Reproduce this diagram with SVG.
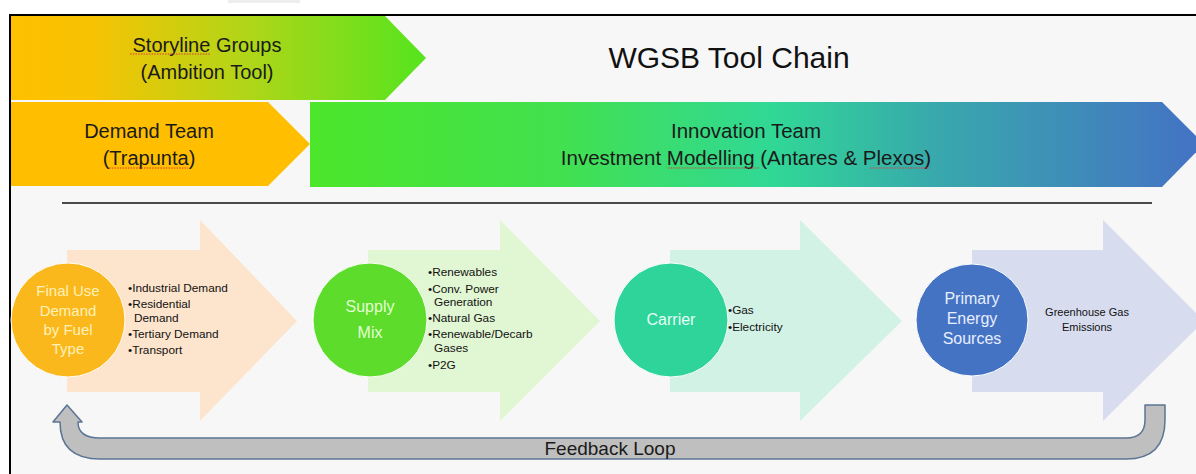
<svg xmlns="http://www.w3.org/2000/svg" width="1196" height="474" viewBox="0 0 1196 474">
<defs>
<linearGradient id="gStory" x1="11" y1="0" x2="426" y2="0" gradientUnits="userSpaceOnUse">
<stop offset="0" stop-color="#ffc000"/>
<stop offset="0.2" stop-color="#f6c303"/>
<stop offset="0.55" stop-color="#b4d517"/>
<stop offset="1" stop-color="#55e41f"/>
</linearGradient>
<linearGradient id="gInno" x1="310" y1="0" x2="1200" y2="0" gradientUnits="userSpaceOnUse">
<stop offset="0" stop-color="#4ce62a"/>
<stop offset="0.28" stop-color="#42e14f"/>
<stop offset="0.52" stop-color="#30d896"/>
<stop offset="0.7" stop-color="#38a9ac"/>
<stop offset="1" stop-color="#4472c4"/>
</linearGradient>
<style>
.hd{font-family:"Liberation Sans",Arial,sans-serif;font-size:20px;fill:#1a1a1a;text-anchor:middle}
.bl{font-family:"Liberation Sans",Arial,sans-serif;font-size:11.8px;fill:#111}
.ct{font-family:"Liberation Sans",Arial,sans-serif;font-size:16px;text-anchor:middle}
.sq{stroke:#d83a3a;stroke-width:1;stroke-dasharray:1.5 1.2;fill:none}
</style>
</defs>
<rect x="0" y="0" width="1196" height="474" fill="#ffffff"/>
<rect x="228" y="0" width="72" height="3" fill="#eeeeee"/>
<rect x="10" y="15" width="1200" height="470" fill="#f7f7f7" stroke="#000" stroke-width="2"/>

<g id="storyline">
<path d="M11,16 H385 L426,58 L385,100 H11 Z" fill="url(#gStory)"/>
<text class="hd" x="207" y="52">Storyline Groups</text>
<text class="hd" x="207" y="79">(Ambition Tool)</text>
<path class="sq" d="M130,54 H211"/>
</g>

<g id="demand-team">
<path d="M11,102 H268 L310,144 L268,186 H11 Z" fill="#ffbf00"/>
<text class="hd" x="149" y="138">Demand Team</text>
<text class="hd" x="149" y="165">(Trapunta)</text>
<path class="sq" d="M109,168 H188"/>
</g>

<g id="innovation-team">
<path d="M310,102 H1162 L1204,144 L1162,187 H310 Z" fill="url(#gInno)"/>
<text class="hd" x="746" y="138" style="font-size:20.5px">Innovation Team</text>
<text class="hd" x="746" y="165" style="font-size:20.5px">Investment Modelling (Antares &amp; Plexos)</text>
<path class="sq" d="M668,168 H760"/>
<path class="sq" d="M870,168 H930"/>
</g>

<g id="title">
<text x="729" y="68" font-family="Liberation Sans, Arial, sans-serif" font-size="30" fill="#111" text-anchor="middle">WGSB Tool Chain</text>
</g>

<line x1="62" y1="203" x2="1152" y2="203" stroke="#111" stroke-width="1.5"/>

<g id="final-use">
<path d="M67,250 H200 V220 L297,321 L200,421 V392 H67 Z" fill="#fde5cd"/>
<circle cx="68" cy="320" r="57" fill="#fbb81c" stroke="#fff" stroke-width="1"/>
<text class="ct" fill="#fff1b8" x="68" y="296" style="font-size:15px">Final Use</text>
<text class="ct" fill="#fff1b8" x="68" y="316" style="font-size:15px">Demand</text>
<text class="ct" fill="#fff1b8" x="68" y="335" style="font-size:15px">by Fuel</text>
<text class="ct" fill="#fff1b8" x="68" y="354" style="font-size:15px">Type</text>
<text class="bl" x="128" y="292">•Industrial Demand</text>
<text class="bl" x="128" y="308">•Residential</text>
<text class="bl" x="134" y="322">Demand</text>
<text class="bl" x="128" y="338">•Tertiary Demand</text>
<text class="bl" x="128" y="354">•Transport</text>
</g>

<g id="supply-mix">
<path d="M368,250 H500 V220 L600,321 L500,421 V392 H368 Z" fill="#e1f6d3"/>
<circle cx="370" cy="320" r="57" fill="#5ddc2b" stroke="#fff" stroke-width="1"/>
<text class="ct" fill="#e2ffd2" x="370" y="312">Supply</text>
<text class="ct" fill="#e2ffd2" x="370" y="338">Mix</text>
<text class="bl" x="428" y="276">•Renewables</text>
<text class="bl" x="428" y="293">•Conv. Power</text>
<text class="bl" x="434" y="306">Generation</text>
<text class="bl" x="428" y="322">•Natural Gas</text>
<text class="bl" x="428" y="338">•Renewable/Decarb</text>
<text class="bl" x="434" y="352">Gases</text>
<text class="bl" x="428" y="369">•P2G</text>
</g>

<g id="carrier">
<path d="M670,250 H800 V220 L902,321 L800,421 V392 H670 Z" fill="#d3f2e6"/>
<circle cx="671" cy="320" r="57" fill="#2fd49b" stroke="#fff" stroke-width="1"/>
<text class="ct" fill="#e6fff5" x="671" y="325">Carrier</text>
<text class="bl" x="728" y="314">•Gas</text>
<text class="bl" x="728" y="331">•Electricity</text>
</g>

<g id="primary-energy">
<path d="M972,250 H1103 V220 L1204,321 L1103,421 V392 H972 Z" fill="#d7dcef"/>
<circle cx="972" cy="320" r="56" fill="#4573c4" stroke="#fff" stroke-width="1"/>
<text class="ct" fill="#e8eeff" x="972" y="304">Primary</text>
<text class="ct" fill="#e8eeff" x="972" y="324">Energy</text>
<text class="ct" fill="#e8eeff" x="972" y="344">Sources</text>
<text class="bl" x="1087" y="316" text-anchor="middle" style="font-size:11px">Greenhouse Gas</text>
<text class="bl" x="1087" y="331" text-anchor="middle" style="font-size:11px">Emissions</text>
</g>

<g id="connectors">
<path d="M1145,405 H1165 V420 Q1165,459 1126,459 H100 Q60,459 60,422 H53 L67,405 L82,422 H78 Q78,438 100,438 H1126 Q1145,438 1145,420 Z" fill="#bfbfbf" stroke="#5b7595" stroke-width="1.5" stroke-linejoin="round"/>
<text x="610" y="455" font-family="Liberation Sans, Arial, sans-serif" font-size="19" fill="#1a1a1a" text-anchor="middle">Feedback Loop</text>
</g>
</svg>
